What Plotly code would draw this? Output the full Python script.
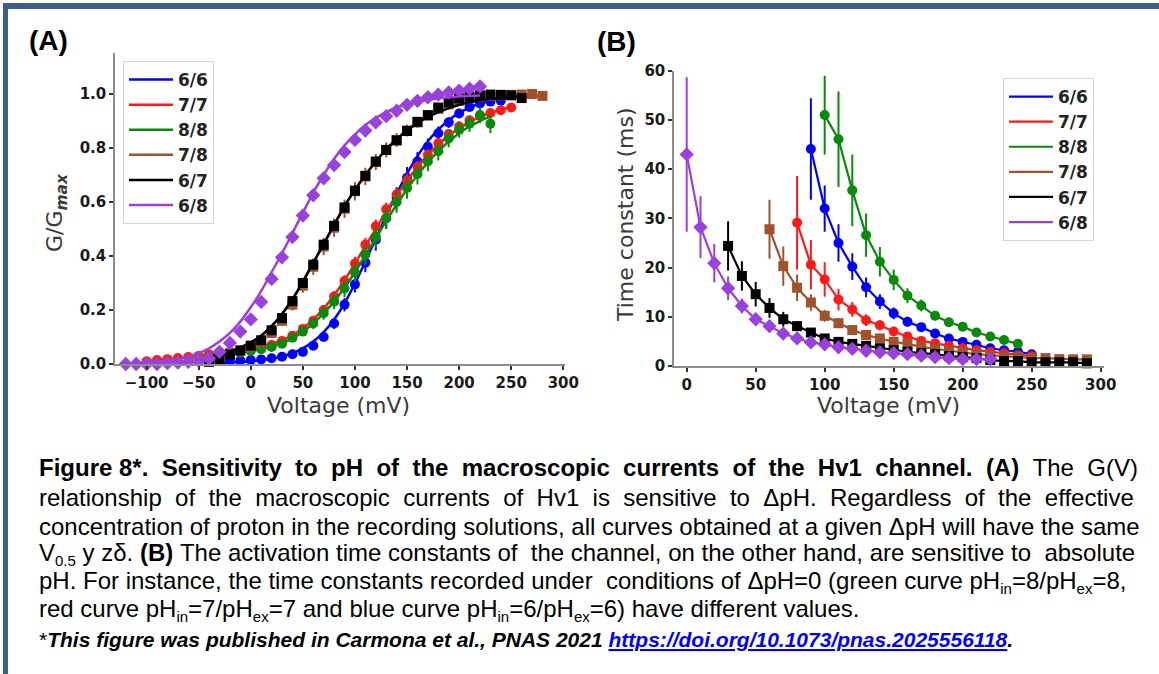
import plotly.graph_objects as go

W, H = 1159, 674

# ---------------- Panel A: G/Gmax vs voltage ----------------
series_names = ["6/6", "7/7", "8/8", "7/8", "6/7", "6/8"]
series_colors = ["#0000ff", "#ff1a1a", "#0a8a0a", "#a0522d", "#000000", "#9a40dd"]
series_symbols = ["circle", "circle", "circle", "square", "square", "diamond"]

gv_v_66 = [-30, -20, -10, 0, 10, 20, 30, 40, 50, 60, 70, 80, 90, 100, 110, 120, 130,
           140, 150, 160, 170, 180, 190, 200, 210, 220, 230, 240]
gv_g_66 = [0.01, 0.012, 0.013, 0.015, 0.017, 0.021, 0.027, 0.036, 0.045, 0.068, 0.1, 0.15,
           0.22, 0.295, 0.375, 0.46, 0.54, 0.615, 0.69, 0.75, 0.805, 0.855, 0.895, 0.928,
           0.952, 0.965, 0.972, 0.975]
gv_e_66 = [0.005, 0.005, 0.005, 0.005, 0.006, 0.006, 0.007, 0.008, 0.01, 0.012, 0.015, 0.02,
           0.025, 0.03, 0.035, 0.04, 0.04, 0.04, 0.04, 0.035, 0.03, 0.025, 0.02, 0.015,
           0.012, 0.01, 0.01, 0.01]
gv_fit_66 = [0.004, 0.005, 0.007, 0.01, 0.014, 0.02, 0.028, 0.04, 0.058, 0.083, 0.118, 0.165,
             0.225, 0.298, 0.38, 0.465, 0.55, 0.63, 0.705, 0.77, 0.825, 0.868, 0.903, 0.93,
             0.95, 0.965, 0.975, 0.982]

gv_v_77 = [-100, -90, -80, -70, -60, -50, -40, -30, -20, -10, 0, 10, 20, 30, 40, 50, 60, 70,
           80, 90, 100, 110, 120, 130, 140, 150, 160, 170, 180, 190, 200, 210, 220, 230, 240, 250]
gv_g_77 = [0.01, 0.015, 0.018, 0.022, 0.026, 0.03, 0.035, 0.04, 0.045, 0.05, 0.055, 0.062,
           0.07, 0.085, 0.105, 0.13, 0.16, 0.2, 0.25, 0.307, 0.372, 0.442, 0.51, 0.573, 0.628,
           0.68, 0.73, 0.775, 0.818, 0.852, 0.88, 0.903, 0.918, 0.93, 0.94, 0.95]
gv_e_77 = [0.005, 0.005, 0.005, 0.005, 0.005, 0.005, 0.005, 0.006, 0.006, 0.006, 0.007, 0.008,
           0.008, 0.01, 0.012, 0.014, 0.016, 0.018, 0.02, 0.022, 0.025, 0.025, 0.025, 0.025,
           0.025, 0.025, 0.022, 0.02, 0.02, 0.018, 0.018, 0.015, 0.015, 0.015, 0.015, 0.015]
gv_fit_77 = [0.012, 0.015, 0.018, 0.021, 0.025, 0.03, 0.035, 0.04, 0.046, 0.052, 0.058, 0.065,
             0.075, 0.088, 0.107, 0.132, 0.165, 0.205, 0.255, 0.31, 0.372, 0.437, 0.5, 0.565,
             0.625, 0.68, 0.73, 0.775, 0.813, 0.846, 0.873, 0.896, 0.915, 0.93, 0.942, 0.952]

gv_v_88 = [-50, -40, -30, -20, -10, 0, 10, 20, 30, 40, 50, 60, 70, 80, 90, 100, 110, 120,
           130, 140, 150, 160, 170, 180, 190, 200, 210, 220, 230]
gv_g_88 = [0.02, 0.025, 0.03, 0.036, 0.042, 0.048, 0.055, 0.063, 0.075, 0.097, 0.12, 0.15,
           0.188, 0.231, 0.28, 0.34, 0.405, 0.47, 0.54, 0.6, 0.652, 0.703, 0.75, 0.788, 0.835,
           0.868, 0.89, 0.922, 0.89]
gv_e_88 = [0.006, 0.006, 0.006, 0.006, 0.007, 0.008, 0.009, 0.01, 0.012, 0.014, 0.016, 0.02,
           0.024, 0.028, 0.032, 0.035, 0.038, 0.04, 0.04, 0.04, 0.04, 0.038, 0.036, 0.034,
           0.032, 0.03, 0.03, 0.03, 0.035]
gv_fit_88 = [0.022, 0.027, 0.032, 0.037, 0.042, 0.048, 0.055, 0.064, 0.077, 0.095, 0.12, 0.15,
             0.188, 0.232, 0.283, 0.34, 0.402, 0.465, 0.53, 0.59, 0.647, 0.7, 0.747, 0.788,
             0.824, 0.855, 0.88, 0.9, 0.917]

gv_v_78 = [-50, -40, -30, -20, -10, 0, 10, 20, 30, 40, 50, 60, 70, 80, 90, 100, 110, 120,
           130, 140, 150, 160, 170, 180, 190, 200, 210, 220, 230, 240, 250, 260, 270, 280]
gv_g_78 = [0.02, 0.025, 0.03, 0.04, 0.05, 0.062, 0.08, 0.115, 0.16, 0.22, 0.29, 0.36, 0.435,
           0.505, 0.575, 0.64, 0.695, 0.748, 0.793, 0.83, 0.865, 0.895, 0.92, 0.945, 0.962,
           0.975, 0.985, 0.99, 0.993, 0.995, 0.997, 0.998, 1.0, 0.993]
gv_e_78 = [0.004, 0.005, 0.006, 0.007, 0.008, 0.01, 0.012, 0.015, 0.018, 0.022, 0.026, 0.03,
           0.032, 0.034, 0.034, 0.034, 0.032, 0.03, 0.028, 0.025, 0.022, 0.02, 0.018, 0.015,
           0.012, 0.01, 0.008, 0.008, 0.006, 0.006, 0.005, 0.005, 0.005, 0.005]
gv_fit_78 = [0.02, 0.027, 0.035, 0.046, 0.061, 0.08, 0.105, 0.14, 0.185, 0.24, 0.305, 0.375,
             0.445, 0.515, 0.585, 0.645, 0.7, 0.75, 0.795, 0.833, 0.865, 0.893, 0.915, 0.933,
             0.948, 0.96, 0.97, 0.977, 0.982, 0.986, 0.989, 0.991, 0.993, 0.994]

gv_v_67 = [-40, -30, -20, -10, 0, 10, 20, 30, 40, 50, 60, 70, 80, 90, 100, 110, 120, 130,
           140, 150, 160, 170, 180, 190, 200, 210, 220, 230, 240, 250, 260]
gv_g_67 = [0.008, 0.018, 0.035, 0.05, 0.068, 0.088, 0.125, 0.17, 0.233, 0.3, 0.368, 0.442,
           0.512, 0.58, 0.642, 0.697, 0.75, 0.793, 0.828, 0.863, 0.897, 0.922, 0.95, 0.97,
           0.984, 0.99, 0.995, 0.998, 0.997, 0.995, 0.985]
gv_e_67 = [0.004, 0.005, 0.006, 0.007, 0.008, 0.01, 0.012, 0.014, 0.016, 0.018, 0.02, 0.02,
           0.02, 0.02, 0.02, 0.018, 0.016, 0.014, 0.012, 0.01, 0.01, 0.008, 0.008, 0.006,
           0.006, 0.005, 0.005, 0.005, 0.005, 0.005, 0.005]
gv_fit_67 = [0.027, 0.035, 0.046, 0.061, 0.08, 0.105, 0.14, 0.185, 0.24, 0.305, 0.375, 0.445,
             0.515, 0.585, 0.645, 0.7, 0.75, 0.795, 0.833, 0.865, 0.893, 0.915, 0.933, 0.948,
             0.96, 0.97, 0.977, 0.982, 0.986, 0.989, 0.991]

gv_v_68 = [-120, -110, -100, -90, -80, -70, -60, -50, -40, -30, -20, -10, 0, 10, 20, 30, 40,
           50, 60, 70, 80, 90, 100, 110, 120, 130, 140, 150, 160, 170, 180, 190, 200, 210, 220]
gv_g_68 = [0.0, 0.0, 0.0, 0.0, 0.003, 0.005, 0.008, 0.012, 0.02, 0.045, 0.078, 0.12, 0.165,
           0.23, 0.315, 0.395, 0.47, 0.55, 0.625, 0.688, 0.737, 0.785, 0.83, 0.865, 0.895,
           0.918, 0.938, 0.96, 0.975, 0.988, 0.998, 1.006, 1.013, 1.02, 1.028]
gv_e_68 = [0.003, 0.003, 0.003, 0.003, 0.004, 0.004, 0.005, 0.006, 0.007, 0.008, 0.01, 0.012,
           0.014, 0.016, 0.018, 0.02, 0.02, 0.02, 0.018, 0.016, 0.014, 0.012, 0.01, 0.01,
           0.008, 0.008, 0.008, 0.007, 0.007, 0.006, 0.006, 0.006, 0.006, 0.006, 0.006]
gv_fit_68 = [0.003, 0.004, 0.006, 0.009, 0.013, 0.019, 0.028, 0.04, 0.058, 0.083, 0.115, 0.157,
             0.21, 0.27, 0.34, 0.41, 0.485, 0.56, 0.635, 0.7, 0.76, 0.81, 0.85, 0.885, 0.912,
             0.933, 0.95, 0.962, 0.972, 0.979, 0.984, 0.988, 0.991, 0.993, 0.995]

# ---------------- Panel B: time constants vs voltage ----------------
tau_v_66 = [90, 100, 110, 120, 130, 140, 150, 160, 170, 180, 190, 200, 210, 220, 230, 240, 250]
tau_66 = [44.1, 32.0, 25.0, 20.2, 16.0, 13.1, 10.7, 9.0, 7.9, 6.6, 5.6, 4.9, 4.3, 3.6, 3.2, 2.9, 2.4]
tau_e_66 = [10.3, 4.7, 3.8, 2.7, 2.0, 1.5, 1.2, 1.0, 0.8, 0.7, 0.6, 0.5, 0.5, 0.4, 0.4, 0.4, 0.4]

tau_v_77 = [80, 90, 100, 110, 120, 130, 140, 150, 160, 170, 180, 190, 200, 210, 220, 230, 240, 250]
tau_77 = [29.1, 20.6, 17.6, 13.5, 11.5, 9.3, 8.3, 7.0, 6.0, 5.1, 4.6, 4.1, 3.6, 3.2, 2.9, 2.6, 2.2, 2.0]
tau_e_77 = [9.5, 5.0, 3.5, 2.2, 1.5, 1.2, 1.0, 0.8, 0.7, 0.6, 0.5, 0.5, 0.4, 0.4, 0.4, 0.3, 0.3, 0.3]

tau_v_88 = [100, 110, 120, 130, 140, 150, 160, 170, 180, 190, 200, 210, 220, 230, 240]
tau_88 = [51.0, 46.1, 35.7, 26.6, 21.2, 17.5, 14.3, 12.3, 10.2, 8.9, 8.0, 6.8, 6.0, 5.3, 4.5]
tau_e_88 = [8.0, 9.7, 7.3, 4.4, 3.0, 2.1, 1.5, 1.2, 0.9, 0.8, 0.7, 0.6, 0.5, 0.5, 0.5]

tau_v_78 = [60, 70, 80, 90, 100, 110, 120, 130, 140, 150, 160, 170, 180, 190, 200, 210, 220,
            230, 240, 250, 260, 270, 280, 290]
tau_78 = [27.8, 20.3, 15.9, 12.9, 10.2, 8.7, 7.3, 6.3, 5.6, 4.9, 4.5, 3.9, 3.5, 3.1, 2.8, 2.4,
          2.2, 2.0, 1.8, 1.6, 1.6, 1.4, 1.35, 1.35]
tau_e_78 = [6.0, 4.0, 2.7, 1.7, 1.2, 1.0, 0.8, 0.7, 0.6, 0.5, 0.5, 0.4, 0.4, 0.4, 0.3, 0.3,
            0.3, 0.3, 0.3, 0.3, 0.3, 0.3, 0.3, 0.3]

tau_v_67 = [30, 40, 50, 60, 70, 80, 90, 100, 110, 120, 130, 140, 150, 160, 170, 180, 190, 200,
            210, 220, 230, 240, 250, 260, 270, 280, 290]
tau_67 = [24.4, 18.3, 14.6, 11.8, 9.5, 8.1, 6.8, 5.6, 4.9, 4.5, 4.1, 3.6, 3.2, 2.9, 2.6, 2.4,
          2.0, 1.8, 1.6, 1.2, 1.0, 1.0, 0.75, 0.75, 0.75, 0.75, 0.55]
tau_e_67 = [5.0, 3.0, 2.5, 2.0, 1.5, 1.0, 0.8, 0.7, 0.6, 0.5, 0.5, 0.4, 0.4, 0.4, 0.3, 0.3,
            0.3, 0.3, 0.3, 0.3, 0.3, 0.3, 0.3, 0.3, 0.3, 0.3, 0.3]

tau_v_68 = [0, 10, 20, 30, 40, 50, 60, 70, 80, 90, 100, 110, 120, 130, 140, 150, 160, 170,
            180, 190, 200, 210, 220]
tau_68 = [43.0, 28.2, 20.9, 15.8, 12.2, 9.5, 8.1, 6.6, 5.6, 4.8, 4.4, 3.8, 3.5, 3.1, 2.8, 2.6,
          2.4, 2.1, 1.8, 1.6, 1.4, 1.4, 1.4]
tau_e_68 = [15.7, 6.3, 3.9, 2.4, 1.5, 1.0, 0.8, 0.7, 0.6, 0.5, 0.5, 0.4, 0.4, 0.4, 0.3, 0.3,
            0.3, 0.3, 0.3, 0.3, 0.3, 0.3, 0.3]

SUB = "<sub><span style='font-size:15px'>{}</span></sub>"
caption_lines = [
    "<b>Figure 8*. Sensitivity to pH of the macroscopic currents of the Hv1 channel. (A)</b> The G(V)",
    "relationship of the macroscopic currents of Hv1 is sensitive to ΔpH. Regardless of the effective",
    "concentration of proton in the recording solutions, all curves obtained at a given ΔpH will have the same",
    "V" + SUB.format("0.5") + " y zδ. <b>(B)</b> The activation time constants of the channel, on the other hand, are sensitive to absolute",
    "pH. For instance, the time constants recorded under conditions of ΔpH=0 (green curve pH"
    + SUB.format("in") + "=8/pH" + SUB.format("ex") + "=8,",
    "red curve pH" + SUB.format("in") + "=7/pH" + SUB.format("ex") + "=7 and blue curve pH"
    + SUB.format("in") + "=6/pH" + SUB.format("ex") + "=6) have different values.",
]
# extra spaces that stretch each line to the justified right margin
caption_pad = [14, 14, 0, 2, 2, 0]
reference_line = ("*<b><i>This figure was published in Carmona et al., PNAS 2021 </i></b>"
                  "<a href='https://doi.org/10.1073/pnas.2025556118'><span style='color:#0000ff'>"
                  "<b><i><u>https://doi.org/10.1073/pnas.2025556118</u></i></b></span></a><b><i>.</i></b>")

gv_sets = [
    (gv_v_66, gv_g_66, gv_e_66, gv_fit_66),
    (gv_v_77, gv_g_77, gv_e_77, gv_fit_77),
    (gv_v_88, gv_g_88, gv_e_88, gv_fit_88),
    (gv_v_78, gv_g_78, gv_e_78, gv_fit_78),
    (gv_v_67, gv_g_67, gv_e_67, gv_fit_67),
    (gv_v_68, gv_g_68, gv_e_68, gv_fit_68),
]
tau_sets = [
    (tau_v_66, tau_66, tau_e_66),
    (tau_v_77, tau_77, tau_e_77),
    (tau_v_88, tau_88, tau_e_88),
    (tau_v_78, tau_78, tau_e_78),
    (tau_v_67, tau_67, tau_e_67),
    (tau_v_68, tau_68, tau_e_68),
]


def fx(px):
    return px / W


def fy(py):
    return 1 - py / H


def justify(text, extra):
    # spread `extra` non-breaking spaces over the word gaps (tags hold no plain spaces
    # except inside span styles, which are written without spaces)
    words = text.split(" ")
    gaps = len(words) - 1
    out = words[0]
    for i, w in enumerate(words[1:]):
        n = int((i + 1) * extra / gaps) - int(i * extra / gaps)
        out += " " + "\u00a0" * n + w
    return out


fig = go.Figure()

for name, color, symbol, (v, g, e, fit) in zip(series_names, series_colors, series_symbols, gv_sets):
    fig.add_trace(go.Scatter(
        x=v, y=g, mode="markers", showlegend=False, cliponaxis=False,
        marker=dict(symbol=symbol, size=10 if symbol != "diamond" else 11, color=color),
        error_y=dict(type="data", array=e, color=color, thickness=2, width=0),
        xaxis="x", yaxis="y",
    ))
    fig.add_trace(go.Scatter(
        x=v, y=fit, mode="lines", name=name, line=dict(color=color, width=2.5, shape="spline"),
        xaxis="x", yaxis="y", legend="legend",
    ))

for name, color, symbol, (v, t, e) in zip(series_names, series_colors, series_symbols, tau_sets):
    fig.add_trace(go.Scatter(
        x=v, y=t, mode="lines", name=name, line=dict(color=color, width=2.2),
        xaxis="x2", yaxis="y2", legend="legend2",
    ))
    fig.add_trace(go.Scatter(
        x=v, y=t, mode="markers", showlegend=False, cliponaxis=False,
        marker=dict(symbol=symbol, size=10 if symbol != "diamond" else 11, color=color),
        error_y=dict(type="data", array=e, color=color, thickness=2, width=0),
        xaxis="x2", yaxis="y2",
    ))

tick_font = dict(family="DejaVu Sans", size=15, color="#1a1a1a", weight="bold")
axis_style = dict(
    showline=True, linecolor="#8c8c8c", linewidth=1.5, ticks="outside", ticklen=4,
    tickwidth=1.5, tickcolor="#333", showgrid=False, zeroline=False, tickfont=tick_font,
    automargin=False,
)
legend_style = dict(
    xanchor="left", yanchor="top", bgcolor="white", bordercolor="#d6d6d6", borderwidth=1,
    itemwidth=44, font=dict(family="DejaVu Sans", size=17, color="#222", weight="bold"),
)

fig.update_layout(
    width=W, height=H, autosize=False,
    margin=dict(l=0, r=0, t=0, b=0, pad=0, autoexpand=False),
    paper_bgcolor="white", plot_bgcolor="white",
    xaxis=dict(domain=[fx(115), fx(565)], range=[-130.3, 301.6], anchor="y",
               tickvals=[-100, -50, 0, 50, 100, 150, 200, 250, 300], **axis_style),
    yaxis=dict(domain=[fy(364), fy(53)], range=[0, 1.152], anchor="x",
               tickvals=[0, 0.2, 0.4, 0.6, 0.8, 1.0], tickformat=".1f", **axis_style),
    xaxis2=dict(domain=[fx(674), fx(1104)], range=[-9.2, 302.4], anchor="y2",
                tickvals=[0, 50, 100, 150, 200, 250, 300], **axis_style),
    yaxis2=dict(domain=[fy(366), fy(70.8)], range=[0, 60], anchor="x2",
                tickvals=[0, 10, 20, 30, 40, 50, 60], **axis_style),
    legend=dict(x=fx(123), y=fy(61), **legend_style),
    legend2=dict(x=fx(1003), y=fy(78), **legend_style),
)

title_font = dict(family="DejaVu Sans", size=22, color="#3a3a3a")
annotations = [
    dict(text="(A)", x=fx(27), y=fy(40), xanchor="left", yanchor="middle",
         font=dict(family="Liberation Sans", size=28, color="black", weight="bold")),
    dict(text="(B)", x=fx(595), y=fy(41), xanchor="left", yanchor="middle",
         font=dict(family="Liberation Sans", size=28, color="black", weight="bold")),
    dict(text="Voltage (mV)", x=fx(338), y=fy(405), xanchor="center", yanchor="middle",
         font=title_font),
    dict(text="Voltage (mV)", x=fx(888), y=fy(405), xanchor="center", yanchor="middle",
         font=title_font),
    dict(text="G/G<sub><b><i>max</i></b></sub>", x=fx(57), y=fy(213), textangle=-90,
         xanchor="center", yanchor="middle", font=title_font),
    dict(text="Time constant (ms)", x=fx(625), y=fy(215), textangle=-90,
         xanchor="center", yanchor="middle", font=title_font),
]

caption_y = [467, 497, 526, 554, 582, 610]
for line, pad, yc in zip(caption_lines, caption_pad, caption_y):
    annotations.append(dict(
        text=justify(line, pad) if pad else line, x=fx(37), y=fy(yc),
        xanchor="left", yanchor="middle",
        font=dict(family="Liberation Sans", size=24, color="black"),
    ))
annotations.append(dict(
    text=reference_line, x=fx(37), y=fy(639), xanchor="left", yanchor="middle",
    font=dict(family="Liberation Sans", size=21, color="black"),
))

for a in annotations:
    a.update(xref="paper", yref="paper", showarrow=False)
fig.update_layout(annotations=annotations)

frame_color = "#3b5f8e"
fig.update_layout(shapes=[
    dict(type="rect", xref="paper", yref="paper", x0=fx(3), x1=1, y0=fy(9), y1=fy(3),
         fillcolor=frame_color, line_width=0),
    dict(type="rect", xref="paper", yref="paper", x0=fx(3), x1=fx(8), y0=0, y1=fy(3),
         fillcolor=frame_color, line_width=0),
])

fig.write_html(
    "out.html",
    config={"displayModeBar": False},
    post_script="document.body.style.margin='0';document.body.style.overflow='hidden';",
)
